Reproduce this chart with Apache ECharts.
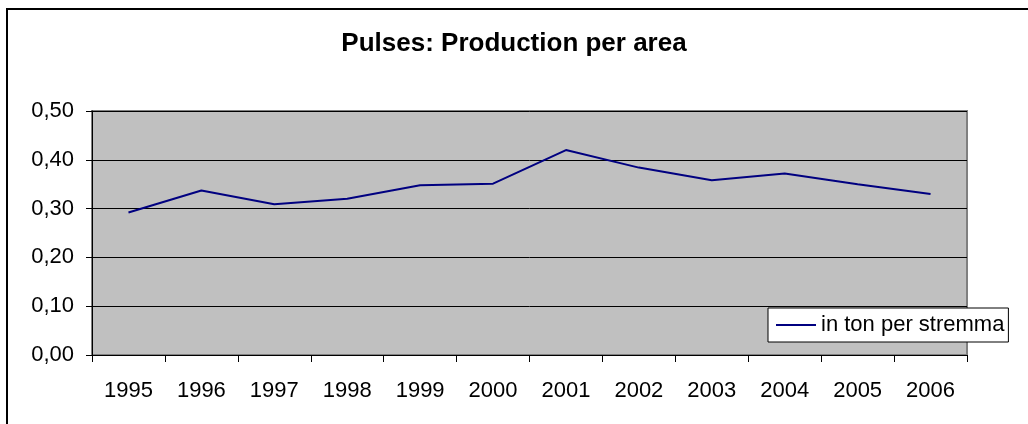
<!DOCTYPE html>
<html>
<head>
<meta charset="utf-8">
<script src="https://cdn.jsdelivr.net/npm/echarts@6/dist/echarts.min.js"></script>
<style>
  html, body { margin: 0; padding: 0; background: #fff; }
  #chart { width: 1028px; height: 424px; }
  .frame {
    position: absolute; left: 6px; top: 8px;
    width: 1040px; height: 440px;
    border-left: 2px solid #000; border-top: 2px solid #000;
    pointer-events: none;
  }
</style>
</head>
<body>
<div id="chart"></div>
<div class="frame"></div>
<script>
// years on the x axis
var years = ["1995", "1996", "1997", "1998", "1999", "2000", "2001", "2002", "2003", "2004", "2005", "2006"];
// production per area, in ton per stremma
var tonPerStremma = [0.292, 0.337, 0.309, 0.320, 0.348, 0.351, 0.420, 0.384, 0.358, 0.372, 0.350, 0.330];
var seriesName = "in ton per stremma";
var titleText = "Pulses: Production per area";

var font = "'Liberation Sans', Arial, sans-serif";

var option = {
  backgroundColor: "#fff",
  animation: false,
  title: {
    text: titleText,
    left: "center",
    top: 26,
    textStyle: { fontFamily: font, fontSize: 26, fontWeight: "bold", color: "#000" }
  },
  legend: {
    show: true,
    left: 768,
    top: 308,
    orient: "horizontal",
    backgroundColor: "#fff",
    borderColor: "#000",
    borderWidth: 1,
    padding: [6, 4, 6, 8],
    icon: "rect",
    itemWidth: 40,
    itemHeight: 2,
    itemGap: 5,
    textStyle: { fontFamily: font, fontSize: 22, color: "#000" },
    data: [seriesName]
  },
  grid: {
    show: true,
    left: 92,
    right: 61,
    top: 111,
    bottom: 69,
    containLabel: false,
    backgroundColor: "#c0c0c0",
    borderColor: "#808080",
    borderWidth: 2
  },
  xAxis: {
    type: "category",
    data: years,
    boundaryGap: true,
    axisLine: { show: true, lineStyle: { color: "#000", width: 1 } },
    axisTick: { show: true, length: 7, inside: false, lineStyle: { color: "#000" } },
    axisLabel: {
      interval: 0,
      margin: 25,
      fontFamily: font,
      fontSize: 22,
      color: "#000"
    },
    splitLine: { show: false }
  },
  yAxis: {
    type: "value",
    min: 0,
    max: 0.5,
    interval: 0.1,
    axisLine: { show: true, lineStyle: { color: "#000", width: 1 } },
    axisTick: { show: true, length: 6, lineStyle: { color: "#000" } },
    axisLabel: {
      margin: 18,
      fontFamily: font,
      fontSize: 22,
      color: "#000",
      formatter: function (v) { return v.toFixed(2).replace(".", ","); }
    },
    splitLine: { show: true, lineStyle: { color: "#000", width: 1 } }
  },
  series: [
    {
      name: seriesName,
      type: "line",
      symbol: "none",
      data: tonPerStremma,
      lineStyle: { color: "#000080", width: 2 },
      itemStyle: { color: "#000080" }
    }
  ]
};

var dom = echarts.init(document.getElementById("chart"));
dom.setOption(option);
</script>
</body>
</html>
